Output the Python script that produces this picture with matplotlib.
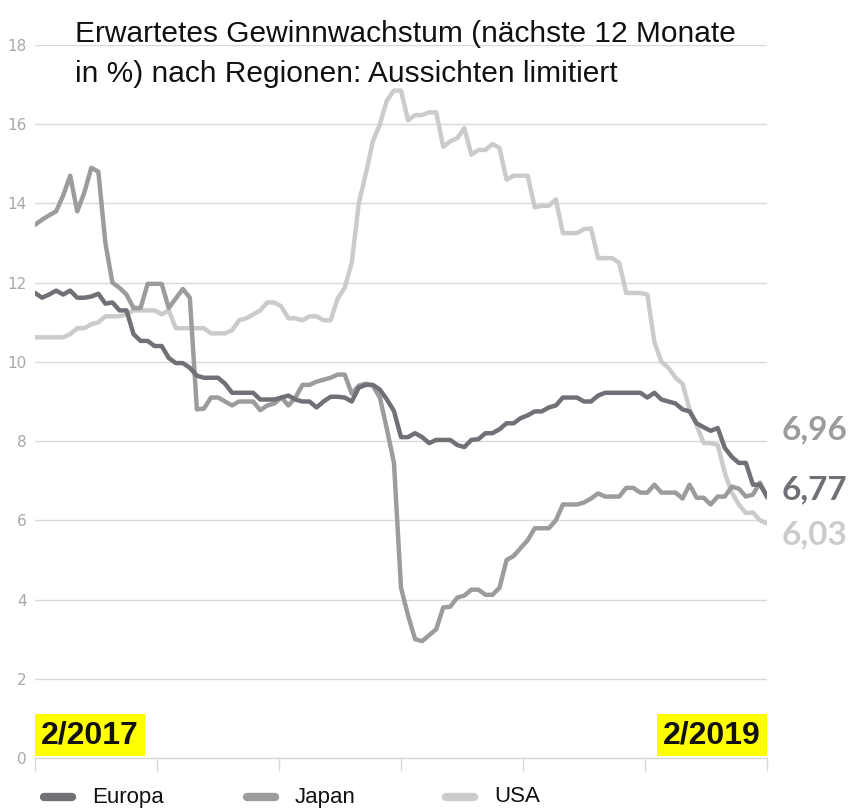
import numpy as np
import matplotlib
matplotlib.use('Agg')
import matplotlib.pyplot as plt
from matplotlib.lines import Line2D

# weekly values, 2/2017 .. 2/2019 (expected earnings growth, % next 12 months)
europa = [11.74, 11.62, 11.7, 11.8, 11.7, 11.8, 11.62, 11.62, 11.65, 11.72,
          11.47, 11.5, 11.3, 11.3, 10.7, 10.53, 10.53, 10.4, 10.4, 10.1,
          9.97, 9.97, 9.85, 9.65, 9.6, 9.6, 9.6, 9.45, 9.22, 9.22,
          9.22, 9.22, 9.05, 9.05, 9.05, 9.1, 9.15, 9.05, 9.0, 9.0,
          8.85, 9.0, 9.12, 9.12, 9.1, 9.0, 9.35, 9.42, 9.42, 9.3,
          9.05, 8.76, 8.1, 8.1, 8.2, 8.1, 7.95, 8.03, 8.03, 8.03,
          7.9, 7.85, 8.03, 8.05, 8.2, 8.2, 8.3, 8.45, 8.45, 8.58,
          8.65, 8.75, 8.75, 8.85, 8.9, 9.1, 9.1, 9.1, 9.0, 9.0,
          9.15, 9.22, 9.22, 9.22, 9.22, 9.22, 9.22, 9.1, 9.22, 9.05,
          9.0, 8.95, 8.8, 8.75, 8.45, 8.35, 8.26, 8.33, 7.83, 7.6,
          7.45, 7.45, 6.9, 6.9, 6.62]
japan = [13.46, 13.59, 13.7, 13.8, 14.2, 14.7, 13.8, 14.27, 14.9, 14.8,
         13.0, 12.0, 11.87, 11.7, 11.36, 11.36, 11.97, 11.97, 11.97, 11.36,
         11.6, 11.84, 11.62, 8.8, 8.82, 9.1, 9.1, 9.0, 8.9, 9.0,
         9.0, 9.0, 8.78, 8.9, 8.95, 9.1, 8.9, 9.1, 9.42, 9.42,
         9.5, 9.55, 9.6, 9.68, 9.68, 9.2, 9.4, 9.45, 9.4, 9.1,
         8.3, 7.45, 4.3, 3.6, 3.0, 2.95, 3.1, 3.25, 3.8, 3.82,
         4.05, 4.1, 4.25, 4.25, 4.12, 4.12, 4.3, 5.0, 5.1, 5.3,
         5.5, 5.8, 5.8, 5.8, 6.0, 6.4, 6.4, 6.4, 6.45, 6.55,
         6.68, 6.6, 6.6, 6.6, 6.82, 6.82, 6.7, 6.7, 6.9, 6.7,
         6.7, 6.7, 6.55, 6.9, 6.57, 6.57, 6.4, 6.6, 6.6, 6.85,
         6.8, 6.6, 6.65, 6.95, 6.57]
usa = [10.62, 10.62, 10.62, 10.62, 10.62, 10.7, 10.85, 10.85, 10.95, 11.0,
       11.15, 11.15, 11.15, 11.2, 11.3, 11.3, 11.3, 11.3, 11.2, 11.3,
       10.85, 10.85, 10.85, 10.85, 10.85, 10.72, 10.72, 10.72, 10.8, 11.05,
       11.1, 11.2, 11.3, 11.5, 11.5, 11.4, 11.1, 11.1, 11.05, 11.15,
       11.15, 11.05, 11.05, 11.6, 11.87, 12.5, 14.0, 14.75, 15.57, 16.0,
       16.6, 16.85, 16.85, 16.1, 16.23, 16.23, 16.3, 16.3, 15.43, 15.57,
       15.65, 15.9, 15.23, 15.35, 15.35, 15.5, 15.4, 14.6, 14.7, 14.7,
       14.7, 13.9, 13.94, 13.94, 14.1, 13.25, 13.25, 13.25, 13.35, 13.37,
       12.62, 12.62, 12.62, 12.5, 11.74, 11.74, 11.74, 11.7, 10.5, 10.0,
       9.85, 9.6, 9.45, 8.8, 8.4, 7.95, 7.95, 7.9, 7.2, 6.7,
       6.4, 6.18, 6.2, 6.0, 5.92]

names = ['Europa', 'Japan', 'USA']
colors = ['#6f7176', '#9c9c9e', '#cbcbcb']
last_labels = ['6,77', '6,96', '6,03']
date_labels = ['2/2017', '2/2019']
title_lines = ['Erwartetes Gewinnwachstum (nächste 12 Monate',
               'in %) nach Regionen: Aussichten limitiert']
yticks = np.arange(0, 19, 2)

weeks = np.arange(len(europa))

fig = plt.figure(figsize=(8.54, 8.09), dpi=100)
ax = fig.add_axes([35 / 854, 51 / 809, 732 / 854, 713 / 809])

for series, col in zip([europa, japan, usa][::-1], colors[::-1]):
    ax.plot(weeks, series, color=col, lw=3.2, solid_joinstyle='round',
            solid_capstyle='round', zorder=3)

ax.set_xlim(0, weeks[-1])
ax.set_ylim(0, 18)
ax.set_yticks(yticks)
ax.set_yticklabels([str(v) for v in yticks])
ax.set_xticks(np.linspace(0, weeks[-1], 7))
ax.set_xticklabels([])
ax.grid(axis='y', color='#d9d9d9', lw=1.0, zorder=0)
for s in ['top', 'right', 'left']:
    ax.spines[s].set_visible(False)
ax.spines['bottom'].set_color('#d9d9d9')
ax.spines['bottom'].set_linewidth(1.0)
ax.tick_params(axis='x', length=9, color='#d9d9d9', width=1.0)
ax.tick_params(axis='y', length=0, pad=6, labelcolor='#a8a8a8', labelsize=11)

# title, two lines
for line, base in zip(title_lines, [42, 82]):
    fig.text(75 / 854, 1 - base / 809, line, fontsize=21.5,
             family='Liberation Sans', color='#111111', va='baseline')

# end-value labels on the right
label_y = [490, 430, 535]
for txt, col, yp in zip(last_labels, colors, label_y):
    fig.text(782 / 854, 1 - yp / 809, txt, color=col, fontsize=24,
             fontweight='bold', family='Lato', va='center', ha='left')

# yellow date boxes
box = dict(boxstyle='square,pad=0.2', fc='#ffff00', ec='none')
fig.text(41 / 854, 1 - 735 / 809, date_labels[0], fontsize=23, fontweight='bold',
         family='Liberation Sans', va='center', ha='left',
         color='#111111', bbox=box)
fig.text(761 / 854, 1 - 735 / 809, date_labels[1], fontsize=23, fontweight='bold',
         family='Liberation Sans', va='center', ha='right',
         color='#111111', bbox=box)

# legend row
leg_x = [40, 243, 442]
for name, col, lx in zip(names, colors, leg_x):
    fig.add_artist(Line2D([(lx + 4) / 854, (lx + 32) / 854], [1 - 797 / 809] * 2,
                          color=col, lw=6, solid_capstyle='round',
                          transform=fig.transFigure))
    fig.text((lx + 52) / 854, 1 - 797 / 809, name, fontsize=16,
             family='Liberation Sans', color='#111111', va='center', ha='left')

fig.savefig('out.png', dpi=100)
